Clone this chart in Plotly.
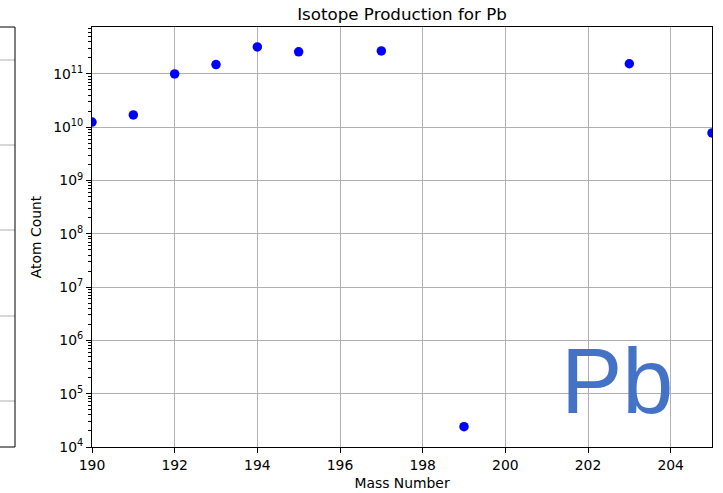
import plotly.graph_objects as go

# Isotope production data for lead
mass_numbers = [190, 191, 192, 193, 194, 195, 197, 199, 203, 205]
atom_counts = [1.25e10, 1.7e10, 1.0e11, 1.5e11, 3.2e11, 2.6e11, 2.7e11, 2.4e4, 1.55e11, 7.8e9]

x_ticks = [190, 192, 194, 196, 198, 200, 202, 204]
y_decades = [4, 5, 6, 7, 8, 9, 10, 11]

W, H = 723, 493
L, R, T, B = 92, 11, 27, 46
PW, PH = W - L - R, H - T - B
FONT = "DejaVu Sans, Liberation Sans, sans-serif"

major_vals = [10 ** d for d in y_decades]
major_text = ["10<sup>%d</sup>" % d for d in y_decades]
minor_vals = [m * 10 ** d for d in range(4, 12) for m in range(2, 10)]

fig = go.Figure()

fig.add_trace(go.Scatter(
    x=mass_numbers, y=atom_counts, mode="markers",
    marker=dict(color="#0000ff", size=9.5),
    showlegend=False, cliponaxis=True,
))

fig.update_layout(
    width=W, height=H,
    margin=dict(l=L, r=R, t=T, b=B, autoexpand=False),
    paper_bgcolor="white", plot_bgcolor="white",
    font=dict(family=FONT, size=13.9, color="black"),
    title=dict(text="Isotope Production for Pb", x=0.5, xref="paper", xanchor="center",
               y=1 - 14 / H, yanchor="middle", font=dict(size=16.7, family=FONT)),
    xaxis=dict(
        range=[190, 205], automargin=False,
        tickmode="array", tickvals=x_ticks, ticks="outside", ticklen=5, tickcolor="black",
        showgrid=True, gridcolor="#b0b0b0", gridwidth=1,
        showline=True, linecolor="black", linewidth=1, mirror=True, zeroline=False,
        title=dict(text="Mass Number", font=dict(size=13.9), standoff=6),
        tickfont=dict(size=13.9),
    ),
    yaxis=dict(
        type="log", range=[4, 11.88], automargin=False,
        tickmode="array", tickvals=major_vals, ticktext=major_text,
        ticks="outside", ticklen=5, tickcolor="black",
        minor=dict(tickmode="array", tickvals=minor_vals, ticks="outside", ticklen=3,
                   tickcolor="black", showgrid=False),
        showgrid=True, gridcolor="#b0b0b0", gridwidth=1,
        showline=True, linecolor="black", linewidth=1, mirror=True, zeroline=False,
        title=dict(text="Atom Count", font=dict(size=13.9), standoff=8),
        tickfont=dict(size=13.9),
    ),
)

# neighbouring panel on the left, mostly out of view
px = lambda p: (p - L) / PW
py = lambda p: (H - B - p) / PH
panel_right = px(15)
for gy in [60, 145, 230, 316, 401]:
    fig.add_shape(type="line", xref="paper", yref="paper", x0=-0.3, x1=panel_right,
                  y0=py(gy), y1=py(gy), line=dict(color="#b0b0b0", width=1))
fig.add_shape(type="rect", xref="paper", yref="paper", x0=-0.3, x1=panel_right,
              y0=0, y1=1, line=dict(color="black", width=1))

fig.add_annotation(
    text="Pb", xref="paper", yref="paper",
    x=px(617.5), y=py(381),
    xanchor="center", yanchor="middle", showarrow=False,
    font=dict(family="Liberation Sans, Arial, sans-serif", size=92, color="#4472c4"),
)

fig.write_html("out.html")
